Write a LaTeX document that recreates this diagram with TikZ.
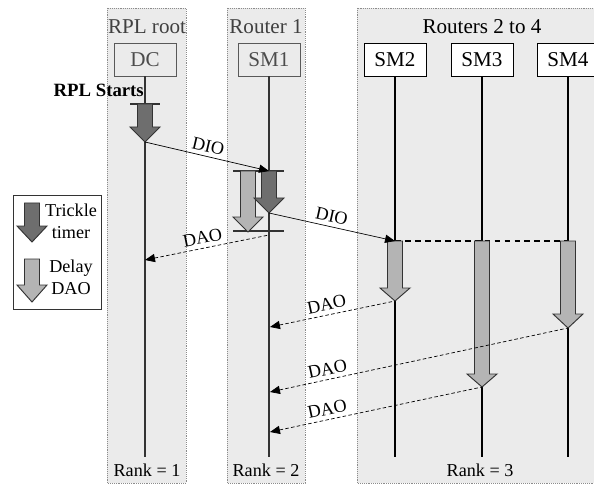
\documentclass[tikz,border=0pt]{standalone}
\usepackage{fontspec}
\setmainfont{Liberation Serif}
\usetikzlibrary{arrows.meta, positioning, shadows}
\definecolor{lanegray}{HTML}{EBEBEB}
\definecolor{trickle}{HTML}{6E6E6E}
\definecolor{delay}{HTML}{B4B4B4}
\definecolor{edge}{HTML}{333333}

\newcommand{\fatarrow}[5]{%
  \draw[#1] ({#2-7.5},#3) -- ({#2+7.5},#3) -- ({#2+7.5},#4) -- ({#2+15},#4)
    -- (#2,#5) -- ({#2-15},#4) -- ({#2-7.5},#4) -- cycle;}

\begin{document}
\begin{tikzpicture}[x=0.03cm, y=-0.03cm,
  lane/.style={fill=lanegray, draw=black!45, densely dotted, line width=0.6pt},
  title/.style={font=\fontsize{18}{20}\selectfont, text=black!75},
  rootbox/.style={draw=black!65, fill=black!8, text=black!70, line width=0.8pt,
    minimum width=1.86cm, minimum height=0.99cm, inner sep=0pt,
    font=\fontsize{18}{20}\selectfont,
    drop shadow={opacity=0.3, shadow xshift=0.8pt, shadow yshift=-0.8pt}},
  smbox/.style={rootbox, draw=black, fill=white, text=black},
  life/.style={line width=1.6pt, draw=edge},
  bar/.style={line width=1.6pt, draw=edge},
  trk/.style={fill=trickle, draw=edge, line width=0.8pt},
  dly/.style={fill=delay, draw=edge, line width=0.8pt},
  dio/.style={-{Triangle[length=8.5pt,width=7pt]}, line width=0.6pt},
  dao/.style={{Triangle[length=8.5pt,width=7pt]}-, densely dashed, line width=0.6pt},
  wait/.style={line width=1.6pt, dash pattern=on 5pt off 3.5pt},
  lbl/.style={font=\fontsize{15.5}{17}\selectfont, sloped, above, inner sep=3.5pt},
  txt/.style={font=\fontsize{15.5}{18.8}\selectfont, align=center, inner sep=0pt}]

  \useasboundingbox (0,0) rectangle (594,485);

  % lanes
  \path[lane] (107,8) rectangle (186,483);
  \path[lane] (227,8) rectangle (305,483);
  \path[lane] (357,8) rectangle (610,483);

  \node[title] (roottitle) at (147,27) {RPL root};
  \node[title] (r1title) at (266,27) {Router 1};
  \node[title, text=black] (r24title) at (482,27) {Routers 2 to 4};

  \node[rootbox] (dc) at (145,59.5) {DC};
  \node[rootbox] (sm1) at (269,59.5) {SM1};
  \node[smbox] (sm2) at (395,59.5) {SM2};
  \node[smbox] (sm3) at (482,59.5) {SM3};
  \node[smbox] (sm4) at (568,59.5) {SM4};

  \coordinate (dcend) at (145,457);
  \coordinate (sm1end) at (269,457);
  \coordinate (sm2end) at (395,457);
  \coordinate (sm3end) at (482,457);
  \coordinate (sm4end) at (568,457);

  \draw[life] (dc) -- (dcend);
  \draw[life] (sm1) -- (sm1end);
  \draw[life, draw=black] (sm2) -- (sm2end);
  \draw[life, draw=black] (sm3) -- (sm3end);
  \draw[life, draw=black] (sm4) -- (sm4end);

  \node[font=\fontsize{16}{18}\selectfont\bfseries, anchor=east, inner sep=0pt] (start) at (144,90) {RPL Starts};

  % timers
  \coordinate (dcT) at (145,142);
  \coordinate (dcDAO) at (145,260);
  \coordinate (sm1DIO) at (269,171);
  \coordinate (sm1T) at (269,213);
  \coordinate (sm1DAO) at (269,235);
  \coordinate (sm1a) at (270,327);
  \coordinate (sm1b) at (270,392);
  \coordinate (sm1c) at (270,432);
  \coordinate (sm2DIO) at (395,241);
  \coordinate (sm4top) at (568,241);
  \coordinate (sm2T) at (395,301);
  \coordinate (sm3T) at (482,387);
  \coordinate (sm4T) at (568,328);

  \draw[bar] (130,104) -- (160,104);
  \fatarrow{trk}{145}{104}{127}{142}
  \draw[bar] (233,171) -- (284,171);
  \draw[bar] (233,231) -- (284,231);
  \fatarrow{dly}{248}{171}{217}{232}
  \fatarrow{trk}{269}{171}{198}{213}

  \draw[wait] (sm2DIO) -- (sm4top);
  \fatarrow{dly}{395}{241}{288}{301}
  \fatarrow{dly}{482}{241}{374}{387}
  \fatarrow{dly}{568}{241}{314}{328}

  % messages
  \draw[dio] (dcT) -- node[lbl, pos=0.49] {DIO} (sm1DIO);
  \draw[dio] (sm1T) -- node[lbl, pos=0.48] {DIO} (sm2DIO);
  \draw[dao] (dcDAO) -- node[lbl, pos=0.48] {DAO} (sm1DAO);
  \draw[dao] (sm1a) -- node[lbl, pos=0.47] {DAO} (sm2T);
  \draw[dao] (sm1b) -- node[lbl, pos=0.2] {DAO} (sm4T);
  \draw[dao] (sm1c) -- node[lbl, pos=0.28] {DAO} (sm3T);

  % legend
  \node[draw=edge, fill=white, line width=0.8pt, minimum width=2.64cm, minimum height=3.42cm,
    drop shadow={opacity=0.3, shadow xshift=0.8pt, shadow yshift=-0.8pt}] (legend) at (57,252) {};
  \fatarrow{trk}{32}{203}{226}{242}
  \fatarrow{dly}{32}{259}{285}{302}
  \node[txt] (ltrickle) at (71,221) {Trickle\\timer};
  \node[txt] (ldelay) at (71,277) {Delay\\DAO};

  \node[txt] (rank1) at (147,470) {Rank = 1};
  \node[txt] (rank2) at (266,470) {Rank = 2};
  \node[txt] (rank3) at (480,470) {Rank = 3};
\end{tikzpicture}
\end{document}
